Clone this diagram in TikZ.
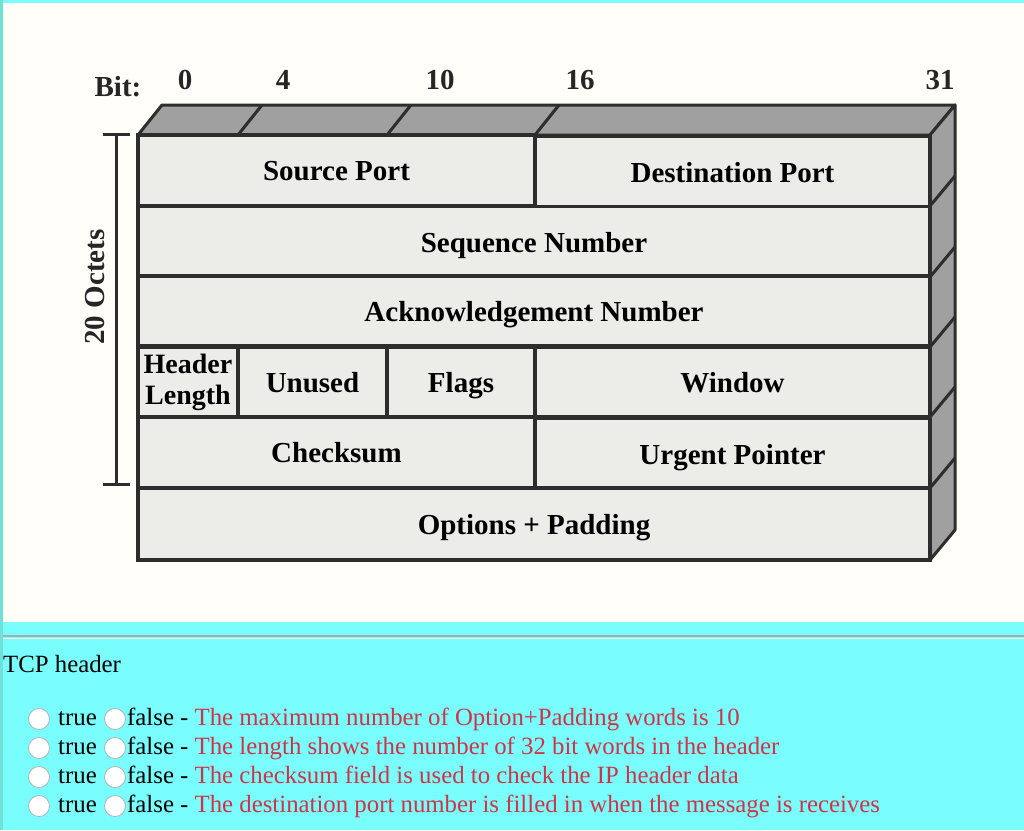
\documentclass[tikz,border=0pt]{standalone}
\usepackage{xcolor}
\usepackage{fontspec}
\setmainfont{Liberation Serif}
\usepackage{tikz}
\usetikzlibrary{arrows.meta, positioning}

\definecolor{pagecyan}{RGB}{122,253,253}
\definecolor{edgeteal}{RGB}{110,226,214}
\definecolor{paper}{RGB}{255,254,249}
\definecolor{facegray}{RGB}{236,236,233}
\definecolor{bevelgray}{RGB}{160,160,160}
\definecolor{inkgray}{RGB}{45,45,45}
\definecolor{quizred}{RGB}{206,52,72}

\newcommand\hdrfont{\fontsize{29}{31}\selectfont\bfseries}
\newcommand\quizfont{\fontsize{24.8}{29}\selectfont}

\tikzset{
  fieldbox/.style={draw=inkgray, line width=3.5pt, fill=facegray, inner sep=0pt, font=\hdrfont, align=center},
  field/.style={fieldbox, text height=20pt, text depth=0pt},
  bevel/.style={draw=inkgray, line width=3pt, fill=bevelgray, line join=round},
  bitlabel/.style={font=\hdrfont, inner sep=0pt, text=black!85},
  radio/.style={circle, draw=gray!60, fill=white, minimum size=21pt, inner sep=0pt, line width=0.8pt},
  quiz/.style={font=\quizfont, anchor=base west, inner sep=0pt},
}

\begin{document}
\begin{tikzpicture}[x=1pt, y=-1pt]
            \useasboundingbox (0,0) rectangle (1024,830);
            % page background
            \fill[paper] (0,0) rectangle (1024,830);
            \fill[pagecyan] (3,0) rectangle (1024,3);
            \fill[pagecyan] (3,622) rectangle (1024,830);
            \fill[edgeteal] (0,0) rectangle (3,830);
            \draw[gray!65, line width=2pt] (3,636) -- (1024,636);
            \draw[white!90!gray, line width=1pt] (3,638.5) -- (1024,638.5);
            % top and side faces of the block
            \draw[bevel] (138,135) -- (162,105) -- (955,105) -- (930,135) -- cycle;
            \draw[bevel] (930,135) -- (955,105) -- (955,530) -- (930,560) -- cycle;
            \draw[inkgray, line width=3pt] (238,135) -- (262,105);
            \draw[inkgray, line width=3pt] (387,135) -- (411,105);
            \draw[inkgray, line width=3pt] (535,135) -- (559,105);
            \draw[inkgray, line width=3pt] (930,206) -- (955,176);
            \draw[inkgray, line width=3pt] (930,277) -- (955,247);
            \draw[inkgray, line width=3pt] (930,347) -- (955,317);
            \draw[inkgray, line width=3pt] (930,417) -- (955,387);
            \draw[inkgray, line width=3pt] (930,488) -- (955,458);
            % header fields
            \node[field, minimum width=397pt, minimum height=71pt] (srcport) at (336.5,170.5) {Source Port};
            \node[field, minimum width=395pt, minimum height=71pt] (dstport) at (732.5,172) {Destination Port};
            \node[field, minimum width=792pt, minimum height=71pt] (seqnum) at (534,242) {Sequence Number};
            \node[field, minimum width=792pt, minimum height=70pt] (acknum) at (534,311) {Acknowledgement Number};
            \node[fieldbox, minimum width=100pt, minimum height=70pt, font=\fontsize{28}{31}\selectfont\bfseries] (hdrlen) at (188,382) {Header\\Length};
            \node[field, minimum width=149pt, minimum height=70pt] (unused) at (312.5,382) {Unused};
            \node[field, minimum width=148pt, minimum height=70pt] (flags) at (461,382) {Flags};
            \node[field, minimum width=395pt, minimum height=70pt] (window) at (732.5,382) {Window};
            \node[field, minimum width=397pt, minimum height=71pt] (checksum) at (336.5,452.5) {Checksum};
            \node[field, minimum width=395pt, minimum height=71pt] (urgent) at (732.5,454) {Urgent Pointer};
            \node[field, minimum width=792pt, minimum height=72pt] (options) at (534,524) {Options + Padding};
            % bit positions
            \node[bitlabel] (bitword) at (118,87) {Bit:};
            \node[bitlabel] (bit0) at (185,80) {0};
            \node[bitlabel] (bit4) at (283,80) {4};
            \node[bitlabel] (bit10) at (440,80) {10};
            \node[bitlabel] (bit16) at (580,80) {16};
            \node[bitlabel] (bit31) at (940,80) {31};
            % octet bracket
            \node[bitlabel, rotate=90] (octets) at (95,287) {20 Octets};
            \coordinate (octtop) at (116,133);
            \coordinate (octbot) at (116,486);
            \draw[inkgray, line width=3pt, {Bar[width=27pt]}-{Bar[width=27pt]}] (octtop) -- (octbot);
            % quiz below the figure
            \node[quiz] (caption) at (3,672) {TCP header};
            \foreach \y/\claim in {725/{The maximum number of Option+Padding words is 10},
                                   754/{The length shows the number of 32 bit words in the header},
                                   783/{The checksum field is used to check the IP header data},
                                   812/{The destination port number is filled in when the message is receives}} {
              \node[radio] (true\y) at (39,\y-6) {};
              \node[radio] (false\y) at (115,\y-6) {};
              \node[quiz] (truetxt\y) at (58,\y) {true};
              \node[quiz] (claim\y) at (127,\y) {false - \textcolor{quizred}{\claim}};
            }
        \end{tikzpicture}
\end{document}
